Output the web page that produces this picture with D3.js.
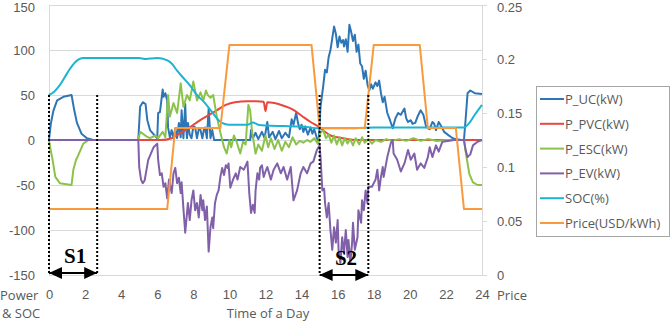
<!DOCTYPE html>
<html>
<head>
<meta charset="utf-8">
<script src="https://cdn.jsdelivr.net/npm/d3@7"></script>
<style>
  body { margin: 0; background: #fff; }
  svg { font-family: "Open Sans", sans-serif; }
  .grid line { stroke: #d9d9d9; stroke-width: 1; }
  .tick text { fill: #595959; font-size: 13px; }
  .series { fill: none; stroke-width: 2; stroke-linejoin: round; }
  .lbl { fill: #595959; font-size: 13px; }
  .mark { font-family: "Liberation Serif", serif; font-weight: bold; font-size: 21px; fill: #000; }
</style>
</head>
<body>
<svg id="chart" width="671" height="325"></svg>
<script>
// ticks
const hourTicks = [0, 2, 4, 6, 8, 10, 12, 14, 16, 18, 20, 22, 24];
const powerTicks = [-150, -100, -50, 0, 50, 100, 150];
const priceTicks = [0, 0.05, 0.1, 0.15, 0.2, 0.25];

const seriesNames = ["P_UC(kW)", "P_PVC(kW)", "P_ESC(kW)", "P_EV(kW)", "SOC(%)", "Price(USD/kWh)"];

// [hour, value]
const pUC = [[0,0],[0.1,18],[0.25,33],[0.45,44],[0.8,48],[1.25,50],[1.4,33],[1.55,19],[1.8,7],[2.1,2],[2.45,0],[4.95,0],[5.05,37],[5.2,42],[5.35,40],[5.45,22],[5.6,11],[5.9,4],[6.0,2],[6.05,30],[6.15,31],[6.3,56],[6.35,48],[6.45,52],[6.55,44],[6.6,14],[6.7,3],[6.8,11],[6.9,2],[7.0,13],[7.1,2],[7.2,19],[7.3,3],[7.35,33],[7.45,2],[7.55,40],[7.6,14],[7.65,2],[7.7,19],[7.8,6],[7.9,2],[8.0,15],[8.1,14],[8.2,2],[8.3,12],[8.4,11],[8.5,2],[8.6,13],[8.65,14],[8.75,2],[8.85,35],[8.95,2],[9.05,11],[9.15,0],[11.15,0],[11.2,11],[11.3,2],[11.45,8],[11.6,1],[11.8,9],[11.95,2],[12.1,20],[12.2,3],[12.4,9],[12.55,1],[12.75,10],[12.9,2],[13.1,8],[13.3,3],[13.45,23],[13.55,17],[13.7,30],[13.8,19],[13.9,12],[14.0,17],[14.1,9],[14.2,15],[14.35,6],[14.5,14],[14.6,7],[14.7,12],[14.85,2],[14.95,-2],[15.05,37],[15.2,60],[15.3,78],[15.4,75],[15.5,92],[15.6,100],[15.7,113],[15.8,126],[15.9,118],[16.0,103],[16.1,115],[16.2,108],[16.3,111],[16.35,104],[16.45,112],[16.55,98],[16.65,128],[16.75,120],[16.85,110],[16.95,117],[17.05,98],[17.15,106],[17.25,85],[17.35,82],[17.45,68],[17.55,77],[17.65,62],[17.75,55],[17.85,62],[17.95,57],[18.1,64],[18.2,60],[18.3,66],[18.4,52],[18.5,42],[18.6,48],[18.75,30],[18.9,22],[19.05,13],[19.2,24],[19.35,30],[19.5,28],[19.7,35],[19.8,24],[19.9,20],[20.05,22],[20.15,18],[20.3,19],[20.45,27],[20.6,33],[20.75,28],[20.9,15],[21.0,13],[21.1,12],[21.25,20],[21.35,18],[21.45,11],[21.6,20],[21.75,15],[21.9,9],[22.1,6],[22.3,3],[22.5,1],[22.85,0],[23.0,0],[23.1,25],[23.2,52],[23.35,55],[23.6,52],[24,51]];

const pPVC = [[0,0],[6.2,0],[6.8,2],[7.3,8],[7.8,14],[8.3,21],[8.8,27],[9.3,33],[9.8,39],[10.3,42],[11,43],[11.5,43],[11.9,42.5],[12.0,32],[12.1,42],[12.5,41],[13,38],[13.5,34],[14,27],[14.5,20],[15,14],[15.3,9],[15.6,5],[16,3],[16.5,1],[17,0],[24,0]];

const pESC = [[0,0],[0.1,-12],[0.2,-22],[0.35,-41],[0.6,-48],[1.25,-50],[1.35,-33],[1.5,-22],[1.6,-18],[1.9,-4],[2.2,0],[4.95,0],[5.05,9],[5.2,7],[5.4,4],[5.6,2],[5.9,5],[6.05,2],[6.3,9],[6.45,3],[6.6,50],[6.7,26],[6.9,41],[7.1,30],[7.3,63],[7.45,37],[7.65,50],[7.8,44],[8.0,65],[8.2,44],[8.4,53],[8.55,44],[8.7,55],[8.8,50],[8.95,47],[9.1,50],[9.3,26],[9.5,8],[9.7,-8],[9.85,-15],[10.0,0],[10.1,-8],[10.25,5],[10.4,-2],[10.6,-15],[10.75,-2],[10.9,-5],[11.05,39],[11.15,33],[11.25,10],[11.45,-15],[11.6,-5],[11.8,-12],[12.0,5],[12.15,-8],[12.3,2],[12.5,-10],[12.7,0],[12.9,-12],[13.1,-2],[13.3,-8],[13.5,3],[13.7,-5],[13.9,-1],[14.1,-3],[14.3,0],[14.5,-2],[14.7,2],[14.9,-4],[15.05,8],[15.2,11],[15.35,2],[15.5,6],[15.65,-3],[15.8,5],[15.95,-5],[16.1,3],[16.25,-6],[16.4,2],[16.55,-4],[16.7,1],[16.85,-6],[17.0,2],[17.2,-5],[17.35,3],[17.5,-3],[17.7,1],[17.9,-4],[18.1,0],[18.4,-2],[18.7,1],[19,-1],[19.4,1],[19.8,-1],[20.2,2],[20.6,-1],[21,1],[21.5,-1],[22,0],[23,0],[23.15,-20],[23.3,-38],[23.5,-47],[23.75,-50],[24,-50]];

const pEV = [[0,0],[4.95,0],[5.0,-30],[5.1,-44],[5.2,-48],[5.3,-45],[5.5,-22],[5.8,-8],[6.0,-4],[6.05,-22],[6.15,-39],[6.25,-37],[6.35,-52],[6.45,-48],[6.55,-65],[6.65,-44],[6.8,-59],[6.9,-37],[7.0,-31],[7.1,-48],[7.2,-42],[7.3,-59],[7.35,-47],[7.45,-76],[7.55,-103],[7.65,-81],[7.7,-70],[7.8,-89],[7.9,-67],[8.0,-56],[8.1,-78],[8.2,-70],[8.3,-86],[8.4,-61],[8.5,-78],[8.55,-67],[8.65,-89],[8.75,-74],[8.85,-124],[8.95,-97],[9.05,-86],[9.1,-98],[9.2,-70],[9.3,-61],[9.4,-56],[9.5,-41],[9.6,-31],[9.7,-39],[9.8,-28],[9.9,-31],[9.95,-26],[10.05,-53],[10.2,-44],[10.35,-37],[10.45,-44],[10.6,-30],[10.8,-33],[11.0,-24],[11.1,-59],[11.2,-81],[11.3,-72],[11.4,-81],[11.45,-56],[11.55,-37],[11.65,-44],[11.7,-31],[11.8,-28],[11.9,-41],[12.0,-35],[12.1,-30],[12.3,-44],[12.45,-33],[12.65,-26],[12.85,-37],[13.0,-30],[13.2,-44],[13.4,-30],[13.55,-67],[13.75,-56],[13.95,-37],[14.1,-30],[14.3,-37],[14.5,-26],[14.65,-24],[14.85,-11],[15.0,-6],[15.05,-19],[15.15,-56],[15.25,-54],[15.3,-70],[15.4,-86],[15.5,-70],[15.6,-100],[15.7,-122],[15.8,-97],[15.9,-114],[16.0,-89],[16.05,-122],[16.15,-137],[16.25,-108],[16.35,-126],[16.45,-100],[16.55,-130],[16.6,-111],[16.7,-137],[16.8,-114],[16.85,-92],[16.95,-122],[17.1,-108],[17.15,-78],[17.3,-92],[17.35,-67],[17.45,-78],[17.55,-56],[17.65,-70],[17.7,-52],[17.9,-52],[18.1,-44],[18.2,-33],[18.3,-56],[18.4,-41],[18.5,-30],[18.55,-41],[18.75,-19],[18.95,-3],[19.05,0],[19.1,-15],[19.3,-22],[19.5,-35],[19.7,-26],[19.9,-11],[20.05,-22],[20.25,-15],[20.4,-33],[20.6,-26],[20.8,-31],[21.0,-19],[21.1,-8],[21.25,-19],[21.45,-6],[21.6,-13],[21.8,-2],[22.1,-1],[22.45,0],[23.0,0],[23.1,-12],[23.2,-19],[23.35,-16],[23.5,-6],[23.75,-2],[24,0]];

const soc = [[0,50],[0.3,54],[0.6,61],[1.0,74],[1.3,83],[1.6,89],[1.9,91],[2.5,91],[4,91],[5,91],[5.3,90],[5.6,90.5],[6,91],[6.5,89],[6.8,85],[7.1,77],[7.4,70],[7.8,61],[8.2,50],[8.6,42],[9,32],[9.4,22],[9.7,18],[10,17],[10.5,17],[11,17],[11.3,19.5],[11.6,17],[12,16],[13,15.5],[14,15],[15,13],[16,13],[17,13],[18,14],[19,14],[20,14],[21,14],[22,14],[23,14],[23.3,19],[23.6,28],[24,39]];

const price = [[0,0.061],[6.55,0.061],[7.0,0.136],[9.5,0.136],[10.0,0.213],[14.55,0.213],[15.0,0.136],[17.5,0.136],[18.0,0.213],[20.55,0.213],[21.0,0.136],[22.55,0.136],[23.0,0.061],[24,0.061]];

// periods marked S1 / S2 (hours)
const spans = [{name: "S1", from: 0, to: 2.67}, {name: "S2", from: 15, to: 17.7}];

const colors = ["#2e75b6", "#e8473f", "#8bc34a", "#8061a9", "#1db4d2", "#f99a3d"];

let svg = d3.select("#chart");
let x = d3.scaleLinear().domain([0, 24]).range([49, 482]);
let y = d3.scaleLinear().domain([-150, 150]).range([275, 5]);
let yP = d3.scaleLinear().domain([0, 0.25]).range([275, 5]);

// gridlines + left labels
svg.append("g").attr("class", "grid")
    .attr("transform", "translate(49,0)")
    .call(d3.axisLeft(y).tickValues(powerTicks).tickSize(-433).tickPadding(14).tickFormat(d => String(d)))
    .call(g => g.select(".domain").remove())
    .call(g => g.selectAll(".tick text").filter(d => d == 150).attr("dy", "0.5em"));

// left border of plot area
svg.append("line").attr("x1", 49.5).attr("x2", 49.5).attr("y1", y(150)).attr("y2", y(-150))
    .attr("stroke", "#d9d9d9");

svg.append("g")
    .attr("transform", "translate(0,275)")
    .call(d3.axisBottom(x).tickValues(hourTicks).tickSize(0).tickPadding(15))
    .call(g => g.select(".domain").remove());

svg.append("g")
    .attr("transform", "translate(482,0)")
    .call(d3.axisRight(yP).tickValues(priceTicks).tickSize(5).tickSizeOuter(0).tickPadding(10)
        .tickFormat(d => d === 0 ? "0" : String(+d.toFixed(2))))
    .call(g => g.selectAll(".domain, line").attr("stroke", "#d9d9d9"))
    .call(g => g.selectAll(".tick text").filter(d => d == 0.25).attr("dy", "0.5em"));

// series
let line = d3.line().x(d => x(d[0])).y(d => y(d[1]));
let lineP = d3.line().x(d => x(d[0])).y(d => yP(d[1]));
let curved = d3.line().x(d => x(d[0])).y(d => y(d[1])).curve(d3.curveMonotoneX);

let all = [pUC, pPVC, pESC, pEV, soc];
all.forEach((s, i) => {
    svg.append("path").datum(s).attr("class", "series")
        .attr("stroke", colors[i])
        .attr("d", (i == 1 || i == 4) ? curved : line);
});
svg.append("path").datum(price).attr("class", "series").attr("stroke", colors[5]).attr("d", lineP);

// S1 / S2 markers
svg.append("defs").append("marker")
    .attr("id", "head").attr("markerUnits", "userSpaceOnUse")
    .attr("markerWidth", 13).attr("markerHeight", 12)
    .attr("refX", 13).attr("refY", 6).attr("orient", "auto-start-reverse")
    .append("path").attr("d", "M0,0L13,6L0,12Z").attr("fill", "#000");

spans.forEach((s, i) => {
    let g = svg.append("g");
    [s.from, s.to].forEach(h => {
        g.append("line")
            .attr("x1", x(h)).attr("x2", x(h))
            .attr("y1", y(50)).attr("y2", y(-150))
            .attr("stroke", "#000").attr("stroke-width", 2).attr("stroke-dasharray", "2,2");
    });
    let ay = y(-150) - (i == 0 ? 2 : 0);
    g.append("line")
        .attr("x1", x(s.from)).attr("x2", x(s.to))
        .attr("y1", ay).attr("y2", ay)
        .attr("stroke", "#000").attr("stroke-width", 2)
        .attr("marker-start", "url(#head)").attr("marker-end", "url(#head)");
    g.append("text").attr("class", "mark")
        .attr("x", (x(s.from) + x(s.to)) / 2 + 2).attr("y", ay - 10)
        .attr("text-anchor", "middle").text(s.name);
});

// axis titles
svg.append("text").attr("class", "lbl").attr("x", 0).attr("y", 300).text("Power");
svg.append("text").attr("class", "lbl").attr("x", 2).attr("y", 318).text("& SOC");
svg.append("text").attr("class", "lbl").attr("x", 497).attr("y", 300).text("Price");
svg.append("text").attr("class", "lbl").attr("x", 268).attr("y", 318).attr("text-anchor", "middle").text("Time of a Day");

// legend
let legend = svg.append("g");
legend.append("rect").attr("x", 536.5).attr("y", 86.5).attr("width", 133).attr("height", 150)
    .attr("fill", "#fff").attr("stroke", "#a6a6a6");
seriesNames.forEach((n, i) => {
    let ly = 99 + i * 24.8;
    legend.append("line").attr("x1", 540).attr("x2", 564).attr("y1", ly).attr("y2", ly)
        .attr("stroke", colors[i]).attr("stroke-width", 2);
    legend.append("text").attr("class", "lbl").attr("x", 565).attr("y", ly + 5).text(n);
});
</script>
</body>
</html>
